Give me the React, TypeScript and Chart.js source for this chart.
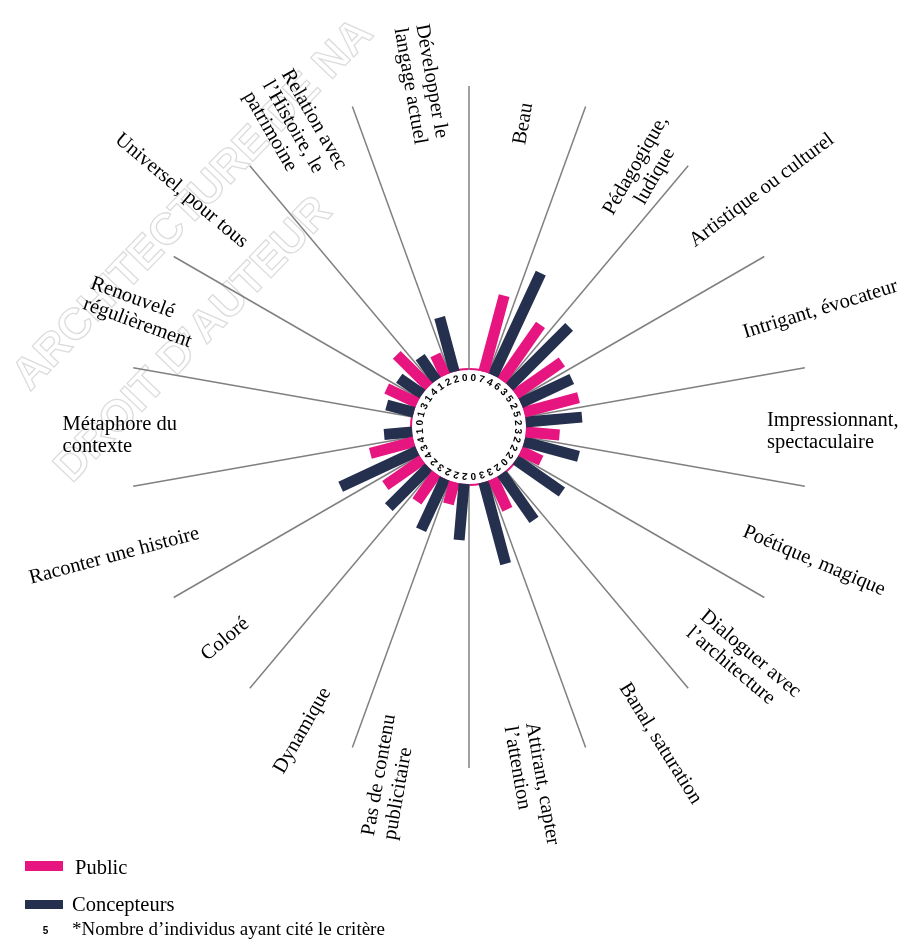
import React, { useEffect, useRef } from "react";
import { Chart, registerables } from "chart.js";

Chart.register(...registerables);

// ---- data ----
const categories = [
  "Beau",
  "Pédagogique,\nludique",
  "Artistique ou culturel",
  "Intrigant, évocateur",
  "Impressionnant,\nspectaculaire",
  "Poétique, magique",
  "Dialoguer avec\nl’architecture",
  "Banal, saturation",
  "Attirant, capter\nl’attention",
  "Pas de contenu\npublicitaire",
  "Dynamique",
  "Coloré",
  "Raconter une histoire",
  "Métaphore du\ncontexte",
  "Renouvelé\nrégulièrement",
  "Universel, pour tous",
  "Relation avec\nl’Histoire, le\npatrimoine",
  "Développer le\nlangage actuel",
];

// number of individuals citing each criterion (ring labels)
const publicCounts = [7, 6, 5, 5, 3, 2, 0, 3, 0, 2, 3, 4, 4, 0, 3, 4, 2, 0];
const concepteursCounts = [0, 4, 3, 2, 2, 2, 2, 2, 3, 2, 2, 2, 3, 1, 1, 1, 1, 2];

// bar lengths (share of each group, %)
const publicShare = [28, 24, 20, 20, 12, 8, 0, 12, 0, 8, 12, 16, 16, 0, 12, 16, 8, 0];
const concepteursShare = [0, 40, 30, 20, 20, 20, 20, 20, 30, 20, 20, 20, 30, 10, 10, 10, 10, 20];

const seriesNames = ["Public", "Concepteurs"];
const legendNote = "*Nombre d’individus ayant cité le critère";
const legendSample = "5";
const watermark = ["ARCHITECTURE DE NA", "DROIT D’AUTEUR"];

// ---- style / layout ----
const PINK = "#e6157f";
const NAVY = "#252f4e";
const SPOKE = "#808080";
const W = 922;
const H = 947;
const CX = 469;
const CY = 427;
const K = 2.82; // px per % unit
const R_IN = 57 / K; // inner hole in % units
const SPOKE_END = 341 / K;
const BAR_W = 11;
const LABEL_R = 292;
const LABEL_DY = 5;
const LINE_H = 22;
const SERIF = '"Liberation Serif", "Times New Roman", serif';
const SANS = '"Liberation Sans", Arial, sans-serif';
// per-label placement tweaks: extra rotation (deg), perpendicular shift, radial shift (px)
const LABEL_TWEAKS = [
  { rot: 0, perp: 0, rad: 0 },
  { rot: 0, perp: 22, rad: -33, center: true },
  { rot: 3, perp: 3, rad: 0 },
  { rot: 3, perp: 5, rad: 0 },
  { rot: 0, perp: 0, rad: 6 },
  { rot: 3, perp: 3, rad: 0 },
  { rot: 0, perp: 0, rad: 4 },
  { rot: -2, perp: -10, rad: 4 },
  { rot: 0, perp: 0, rad: 5 },
  { rot: 0, perp: -18, rad: 0 },
  { rot: 0, perp: 5, rad: 2 },
  { rot: 0, perp: 2, rad: 0 },
  { rot: 5, perp: -5, rad: -4 },
  { rot: 0, perp: 4, rad: 0 },
  { rot: 0, perp: 0, rad: 0 },
  { rot: 0, perp: 0, rad: 0 },
  { rot: 0, perp: 0, rad: 0 },
  { rot: 0, perp: -13, rad: 0 },
];

const deg = (d: number) => (d * Math.PI) / 180;

const overlay = {
  id: "overlay",
  beforeDatasetsDraw(chart: any) {
    const { ctx } = chart;
    const x = chart.scales.x;
    const y = chart.scales.y;
    const cx = x.getPixelForValue(0);
    const cy = y.getPixelForValue(0);
    const r = x.getPixelForValue(R_IN) - cx;

    // faint watermark
    ctx.save();
    ctx.font = `bold 44px ${SANS}`;
    ctx.strokeStyle = "#dcdcdc";
    ctx.lineWidth = 1.3;
    ctx.textBaseline = "alphabetic";
    ctx.textAlign = "left";
    [
      { t: watermark[0], x: 30, y: 392 },
      { t: watermark[1], x: 72, y: 484 },
    ].forEach((w) => {
      ctx.save();
      ctx.translate(w.x, w.y);
      ctx.rotate(deg(-46));
      ctx.strokeText(w.t, 0, 0);
      ctx.restore();
    });
    ctx.restore();

    ctx.save();
    ctx.beginPath();
    ctx.arc(cx, cy, r + 1, 0, Math.PI * 2);
    ctx.fillStyle = "#fff";
    ctx.fill();
    ctx.strokeStyle = PINK;
    ctx.lineWidth = 2;
    ctx.stroke();
    ctx.restore();
  },
  afterDatasetsDraw(chart: any) {
    const { ctx } = chart;
    const x = chart.scales.x;
    const y = chart.scales.y;
    const cx = x.getPixelForValue(0);
    const cy = y.getPixelForValue(0);
    const rIn = x.getPixelForValue(R_IN) - cx;

    // ring digits
    ctx.save();
    ctx.font = `bold 10px ${SANS}`;
    ctx.fillStyle = "#000";
    ctx.textAlign = "center";
    ctx.textBaseline = "middle";
    categories.forEach((_, j) => {
      const vals = [concepteursCounts[j], publicCounts[j]];
      vals.forEach((v, s) => {
        const th = deg(20 * j + 5 + 10 * s);
        const rr = rIn - 8;
        ctx.save();
        ctx.translate(cx + rr * Math.sin(th), cy - rr * Math.cos(th));
        ctx.rotate(th);
        ctx.fillText(String(v), 0, 0);
        ctx.restore();
      });
    });
    ctx.restore();

    // category labels
    ctx.save();
    ctx.font = `20.5px ${SERIF}`;
    ctx.fillStyle = "#000";
    ctx.textBaseline = "middle";
    categories.forEach((label, j) => {
      const tw: any = LABEL_TWEAKS[j];
      const phi = 20 * j + 10;
      const right = phi < 180;
      const lines = label.split("\n");
      const widths = lines.map((l) => ctx.measureText(l).width);
      const maxW = Math.max(...widths);
      const R = LABEL_R + tw.rad;
      ctx.save();
      ctx.translate(cx, cy + LABEL_DY);
      ctx.rotate(deg(right ? phi - 90 : phi - 270));
      ctx.translate(right ? R + maxW / 2 : -(R + maxW / 2), tw.perp);
      ctx.rotate(deg(tw.rot));
      lines.forEach((line, i) => {
        const yy = (i - (lines.length - 1) / 2) * LINE_H;
        const xx = tw.center ? -widths[i] / 2 : -maxW / 2;
        ctx.textAlign = "left";
        ctx.fillText(line, xx, yy);
      });
      ctx.restore();
    });
    ctx.restore();

    // legend
    ctx.save();
    ctx.fillStyle = PINK;
    ctx.fillRect(25, 861, 38, 10);
    ctx.fillStyle = NAVY;
    ctx.fillRect(25, 900, 38, 9);
    ctx.fillStyle = "#000";
    ctx.textBaseline = "alphabetic";
    ctx.textAlign = "left";
    ctx.font = `20.5px ${SERIF}`;
    ctx.fillText(seriesNames[0], 75, 874);
    ctx.fillText(seriesNames[1], 72, 911);
    ctx.font = `19px ${SERIF}`;
    ctx.fillText(legendNote, 72, 935);
    ctx.font = `bold 10px ${SANS}`;
    ctx.textAlign = "center";
    ctx.fillText(legendSample, 45.5, 934);
    ctx.restore();
  },
};

export default function App() {
  const ref = useRef<HTMLCanvasElement>(null);

  useEffect(() => {
    if (!ref.current) return;
    const datasets: any[] = [];

    // spokes (category separators)
    categories.forEach((_, j) => {
      const a = deg(20 * j);
      datasets.push({
        label: "spoke" + j,
        data: [
          { x: R_IN * Math.sin(a), y: R_IN * Math.cos(a) },
          { x: SPOKE_END * Math.sin(a), y: SPOKE_END * Math.cos(a) },
        ],
        showLine: true,
        borderColor: SPOKE,
        borderWidth: 1.5,
        pointRadius: 0,
        order: 3,
      });
    });

    // bars
    categories.forEach((_, j) => {
      const pairs = [
        { v: concepteursShare[j], color: NAVY, ang: 20 * j + 5, name: seriesNames[1] },
        { v: publicShare[j], color: PINK, ang: 20 * j + 15, name: seriesNames[0] },
      ];
      pairs.forEach((p) => {
        if (p.v <= 0) return;
        const a = deg(p.ang);
        datasets.push({
          label: p.name,
          data: [
            { x: R_IN * Math.sin(a), y: R_IN * Math.cos(a) },
            { x: (R_IN + p.v) * Math.sin(a), y: (R_IN + p.v) * Math.cos(a) },
          ],
          showLine: true,
          borderColor: p.color,
          borderWidth: BAR_W,
          borderCapStyle: "butt",
          pointRadius: 0,
          order: 1,
        });
      });
    });

    const chart = new Chart(ref.current, {
      type: "scatter",
      data: { datasets },
      options: {
        responsive: false,
        animation: false,
        events: [],
        layout: { padding: 0 },
        plugins: { legend: { display: false }, tooltip: { enabled: false } },
        scales: {
          x: { type: "linear", display: false, min: -CX / K, max: (W - CX) / K },
          y: { type: "linear", display: false, min: -(H - CY) / K, max: CY / K },
        },
      },
      plugins: [overlay],
    });
    return () => chart.destroy();
  }, []);

  return (
    <div style={{ position: "absolute", left: 0, top: 0, width: W, height: H, background: "#fff" }}>
      <canvas ref={ref} width={W} height={H} style={{ display: "block" }} />
    </div>
  );
}
